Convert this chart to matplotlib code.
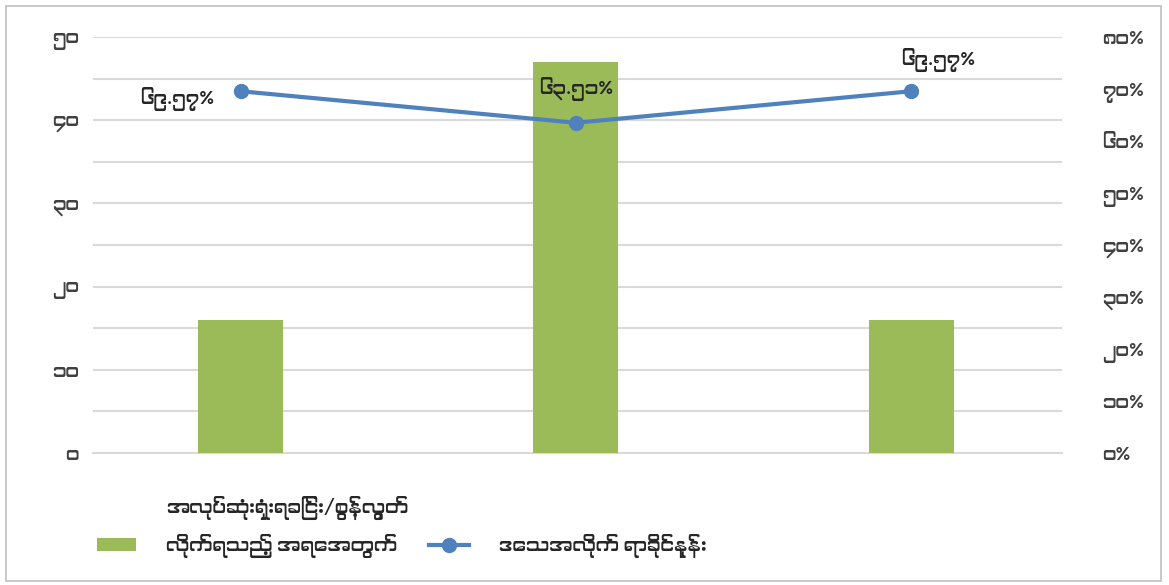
import matplotlib
matplotlib.use("Agg")
import matplotlib.pyplot as plt
from matplotlib import font_manager
from matplotlib.ft2font import FT2Font
from matplotlib.patches import Rectangle

# Data
categories = ["1", "2", "3"]
counts = [16, 47, 16]
percents = [69.57, 63.51, 69.57]
pct_labels = ["၆၉.၅၇%", "၆၃.၅၁%", "၆၉.၅၇%"]
left_ticks = [0, 10, 20, 30, 40, 50]
left_tick_labels = ["၀", "၁၀", "၂၀", "၃၀", "၄၀", "၅၀"]
right_ticks = [0, 10, 20, 30, 40, 50, 60, 70, 80]
right_tick_labels = ["၀%", "၁၀%", "၂၀%", "၃၀%", "၄၀%", "၅၀%", "၆၀%", "၇၀%", "၈၀%"]
bar_name_1 = "အလုပ်ဆုံးရှုံးရခြင်း/စွန့်လွှတ်"
bar_name_2 = "လိုက်ရသည့် အရေအတွက်"
line_name = "ဒေသအလိုက် ရာခိုင်နှုန်း"


# look for installed fonts with Myanmar glyphs, proportional ones first
def myanmar_families():
    found = []
    for path in sorted(font_manager.findSystemFonts()):
        try:
            if 0x1000 in FT2Font(path).get_charmap():
                name = font_manager.FontProperties(fname=path).get_name()
                if name not in found:
                    found.append(name)
        except Exception:
            continue
    bad = ('mono', 'unifont', 'code', 'courier')
    return sorted(found, key=lambda n: any(b in n.lower() for b in bad))


fams = myanmar_families()
plt.rcParams['font.family'] = fams[:1] + ['Noto Sans', 'DejaVu Sans']

green = '#9bbb59'
blue = '#4f81bd'
grid_col = '#d9d9d9'
txt_col = '#404040'
fs = 13.5

fig = plt.figure(figsize=(11.69, 5.85), dpi=100)
ax = fig.add_axes([93 / 1169, 1 - 453 / 585, (1062 - 93) / 1169, (453 - 37) / 585])
ax2 = ax.twinx()

x = list(range(len(categories)))
bars = ax.bar(x, counts, width=0.253, color=green, zorder=3)
line, = ax2.plot(x, percents, color=blue, lw=3, marker='o', ms=10, zorder=4)

ax.set_xlim(-0.44, 2.45)
ax.set_ylim(0, 50)
ax2.set_ylim(0, 80)

ax.set_yticks(left_ticks)
ax.set_yticklabels(left_tick_labels, fontsize=fs, color=txt_col)
ax.set_yticks([5, 15, 25, 35, 45], minor=True)
ax.yaxis.grid(True, which='both', color=grid_col, lw=1.5, zorder=0)
ax.set_axisbelow(True)
ax.set_xticks([])
ax.tick_params(axis='y', which='both', length=0, pad=10)

ax2.set_yticks(right_ticks)
ax2.set_yticklabels(right_tick_labels, fontsize=fs, color=txt_col)
ax2.tick_params(axis='y', length=0, pad=29)

for a in (ax, ax2):
    for s in a.spines.values():
        s.set_visible(False)
ax.spines['bottom'].set_visible(True)
ax.spines['bottom'].set_color(grid_col)
ax.spines['bottom'].set_linewidth(1.5)

# data labels: first one left of the point, the others above
for xi, p, lab in zip(x, percents, pct_labels):
    if xi == 0:
        ax2.text(xi - 0.08, p - 1.5, lab, ha='right', va='center', fontsize=fs, color='#262626')
    elif xi == 1:
        ax2.text(xi, p + 6.5, lab, ha='center', va='center', fontsize=fs, color='#262626')
    else:
        ax2.text(xi + 0.08, p + 6, lab, ha='center', va='center', fontsize=fs, color='#262626')

leg = fig.legend(handles=[bars, line], labels=[bar_name_2, line_name], loc='lower left',
                 bbox_to_anchor=(80 / 1169, 10 / 585), ncol=2, frameon=False, fontsize=fs,
                 handlelength=2.1, handletextpad=1.6, columnspacing=1.7, labelcolor='#262626')

# first line of the bar series name sits above its legend entry
fig.canvas.draw()
bb = leg.get_texts()[0].get_window_extent()
fig.text(bb.x0 / 1169, (bb.y1 + 14) / 585, bar_name_1, fontsize=fs, color='#262626',
         ha='left', va='bottom')

fig.patches.append(Rectangle((6 / 1169, 4 / 585), 1155 / 1169, 575 / 585,
                             transform=fig.transFigure, fill=False,
                             edgecolor='#bfbfbf', lw=1.2))

fig.savefig("out.png", dpi=100)
